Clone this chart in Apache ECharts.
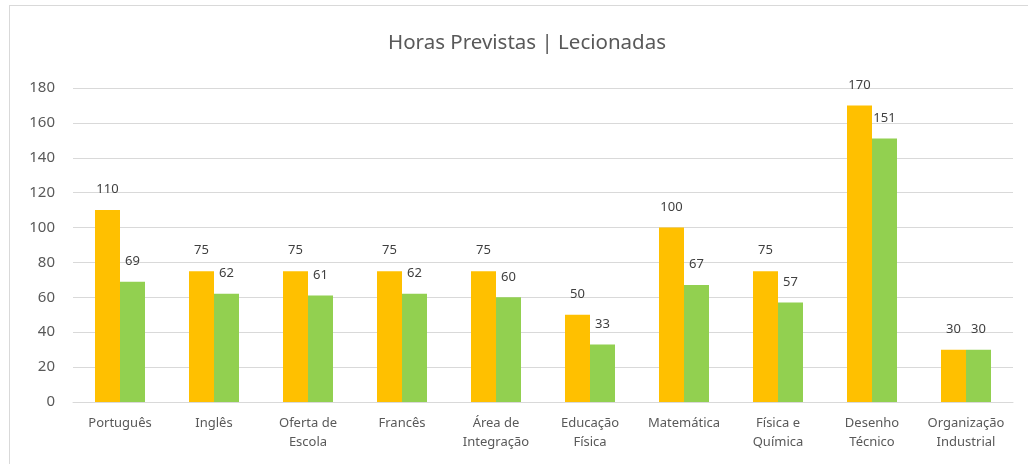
<!DOCTYPE html>
<html>
<head>
<meta charset="utf-8">
<script src="https://cdn.jsdelivr.net/npm/echarts@6/dist/echarts.min.js"></script>
<style>
  html, body { margin: 0; padding: 0; background: #fff; }
  .frame {
    position: absolute; left: 9px; top: 5px;
    width: 1040px; height: 480px;
    border: 1px solid #d9d9d9;
  }
  #chart { position: absolute; left: 0; top: 0; width: 1028px; height: 464px; }
</style>
</head>
<body>
<div class="frame"></div>
<div id="chart"></div>
<script>
  var categories = ['Português', 'Inglês', 'Oferta de\nEscola', 'Francês', 'Área de\nIntegração',
    'Educação\nFísica', 'Matemática', 'Física e\nQuímica', 'Desenho\nTécnico', 'Organização\nIndustrial'];
  var previstas = [110, 75, 75, 75, 75, 50, 100, 75, 170, 30];
  var lecionadas = [69, 62, 61, 62, 60, 33, 67, 57, 151, 30];
  var yTicks = { min: 0, max: 180, interval: 20 };

  var font = '"Noto Sans", "Open Sans", sans-serif';
  var chart = echarts.init(document.getElementById('chart'));
  var labelStyle = {
    show: true, position: 'top', distance: 14,
    color: '#404040', fontSize: 13, fontFamily: font
  };
  chart.setOption({
    animation: false,
    title: {
      text: 'Horas Previstas | Lecionadas',
      left: 383, top: 28,
      textStyle: { color: '#595959', fontSize: 20.5, fontWeight: 'normal', fontFamily: font }
    },
    grid: { left: 73, right: 15, top: 88, bottom: 62, containLabel: false },
    xAxis: {
      type: 'category',
      data: categories,
      axisLine: { lineStyle: { color: '#d9d9d9', width: 1 } },
      axisTick: { show: false },
      axisLabel: { color: '#595959', fontSize: 13, fontFamily: font, margin: 12, lineHeight: 19, interval: 0 }
    },
    yAxis: {
      type: 'value',
      min: yTicks.min, max: yTicks.max, interval: yTicks.interval,
      axisLine: { show: false },
      axisTick: { show: false },
      splitLine: { lineStyle: { color: '#d9d9d9', width: 1 } },
      axisLabel: { color: '#595959', fontSize: 15, fontFamily: font, margin: 18 }
    },
    series: [
      { name: 'Previstas', type: 'bar', data: previstas, barWidth: 25, barGap: '0%',
        itemStyle: { color: '#FFC000' }, label: labelStyle },
      { name: 'Lecionadas', type: 'bar', data: lecionadas, barWidth: 25,
        itemStyle: { color: '#92D050' }, label: labelStyle }
    ]
  });
</script>
</body>
</html>
